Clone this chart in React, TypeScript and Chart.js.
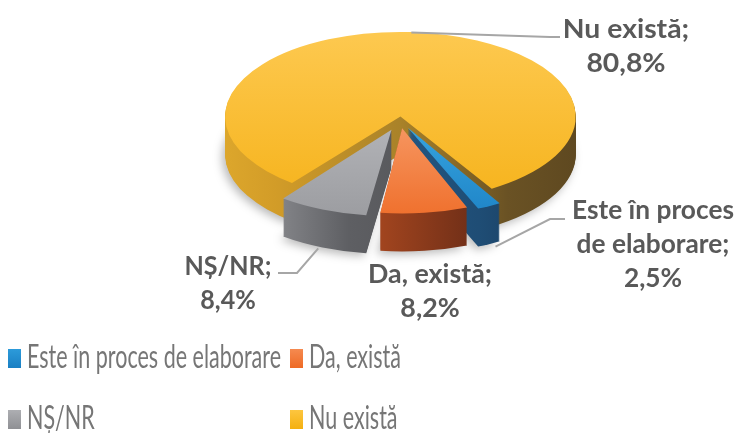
import React, { useEffect, useRef } from 'react';
import { Chart, registerables } from 'chart.js';

Chart.register(...registerables);

// ---- data ----
const CATEGORIES = ['Este în proces de elaborare', 'Da, există', 'NȘ/NR', 'Nu există'];
const VALUES = [2.5, 8.2, 8.4, 80.8];
const LABEL_LINES = [['Este în proces', 'de elaborare;'], ['Da, există;'], ['NȘ/NR;'], ['Nu există;']];

// ---- style ----
const PIE = { cx: 400, cy: 120, rx: 168, ry: 81, depth: 38 };
const OFFSETS = [70, 70, 90, 30];
const ROTATION = 149;

const TOP_COLORS = [
  ['#36A3DE', '#1B80C4'],
  ['#F6955F', '#EE6A25'],
  ['#B1B2B6', '#98999D'],
  ['#FECB55', '#F5B117'],
];
const LEGEND_COLORS = [
  ['#2C9BDA', '#1A7FC3'],
  ['#F58A50', '#EE6A25'],
  ['#ADAEB2', '#8F9094'],
  ['#FDC640', '#F4B010'],
];
const SIDE_STOPS: [number, string][][] = [
  [[0, '#2A6A9C'], [0.7, '#1F4D75'], [1, '#143150']],
  [[0, '#C25A2C'], [0.42, '#A5461F'], [0.72, '#6C2D17'], [1, '#5A2412']],
  [[0, '#A3A4A8'], [0.13, '#8E8F93'], [0.38, '#5E5F63'], [1, '#454547']],
  [[0, '#DDA72C'], [0.15, '#D29C28'], [0.5, '#A98229'], [0.8, '#6A5224'], [1, '#5E4820']],
];
// x, first baseline, width of first line, leader elbow points
const LABEL_STYLE: any[] = [
  { x: 653, y: 219, w: 162, lead: [[550, 219], [565, 219]], anchor: 'front' },
  { x: 430, y: 283, w: 124, lead: null, anchor: null },
  { x: 228, y: 275, w: 87, lead: [[297, 273], [278, 273]], anchor: 'front' },
  { x: 626, y: 38, w: 138, lead: [[550, 37], [560, 37]], anchor: 'top' },
];
const LABEL_FONT = 'bold 27px Lato';
const LABEL_LINE_H = 34;
const LEGEND_FONT = '32px Lato';
const LEGEND_FIT = { text: 'Este în proces de elaborare', width: 254 };
const LEGEND_COLS = [8, 290];
const LEGEND_BASE = [368, 429];

function geom(chart: any) {
  const els = chart.getDatasetMeta(0).data as any[];
  const e0 = els[0];
  const R = e0.outerRadius;
  return { els, ox: e0.x, oy: e0.y, R, sx: PIE.rx / R, sy: PIE.ry / R };
}

function applyProj(ctx: CanvasRenderingContext2D, g: any) {
  ctx.translate(PIE.cx, PIE.cy);
  ctx.scale(g.sx, g.sy);
  ctx.translate(-g.ox, -g.oy);
}

function edgePoint(g: any, i: number) {
  const el = g.els[i];
  const off = el.options.offset || 0;
  const circ = el.endAngle - el.startAngle;
  const h = (el.startAngle + el.endAngle) / 2;
  const fix = 1 - Math.sin(Math.min(Math.PI, circ));
  const t = (off / 4) * (1 + fix);
  const rr = el.outerRadius + (off / 4) * fix;
  const ux = el.x + Math.cos(h) * (t + rr);
  const uy = el.y + Math.sin(h) * (t + rr);
  return [PIE.cx + (ux - g.ox) * g.sx, PIE.cy + (uy - g.oy) * g.sy];
}

const pie3d = {
  id: 'pie3d',
  beforeDatasetsDraw(chart: any) {
    const ctx = chart.ctx as CanvasRenderingContext2D;
    const g = geom(chart);
    const order = [3, 2, 0, 1];
    for (const i of order) {
      const el = g.els[i];
      const saved = el.options;
      const x0 = g.ox - g.R * (1 + 10 / PIE.rx);
      const x1 = g.ox + g.R * (1 + 10 / PIE.rx);
      const grad = ctx.createLinearGradient(x0, 0, x1, 0);
      SIDE_STOPS[i].forEach(([p, c]) => grad.addColorStop(p, c));
      el.options = { ...saved, backgroundColor: grad, borderWidth: 0 };
      for (let k = PIE.depth; k >= 1; k--) {
        ctx.save();
        if (k === PIE.depth) {
          ctx.shadowColor = 'rgba(0,0,0,0.28)';
          ctx.shadowBlur = 10;
          ctx.shadowOffsetX = -3;
          ctx.shadowOffsetY = 3;
        }
        ctx.translate(0, k);
        applyProj(ctx, g);
        el.draw(ctx);
        ctx.restore();
      }
      el.options = saved;
    }
    ctx.save();
    applyProj(ctx, g);
  },
  afterDatasetsDraw(chart: any) {
    chart.ctx.restore();
  },
  afterDraw(chart: any) {
    const ctx = chart.ctx as CanvasRenderingContext2D;
    const g = geom(chart);
    // leader lines
    ctx.save();
    ctx.strokeStyle = '#A6A6A6';
    ctx.lineWidth = 2;
    LABEL_STYLE.forEach((s, i) => {
      if (!s.lead) return;
      const p = edgePoint(g, i);
      const y0 = s.anchor === 'front' ? p[1] + PIE.depth * 0.9 : p[1] + 4;
      ctx.beginPath();
      ctx.moveTo(p[0], y0);
      s.lead.forEach((q: number[]) => ctx.lineTo(q[0], q[1]));
      ctx.stroke();
    });
    ctx.restore();
    // data labels
    ctx.save();
    ctx.font = LABEL_FONT;
    ctx.fillStyle = '#595959';
    ctx.textAlign = 'center';
    ctx.textBaseline = 'alphabetic';
    VALUES.forEach((v, i) => {
      const lines = [...LABEL_LINES[i], v.toFixed(1).replace('.', ',') + '%'];
      const s = LABEL_STYLE[i];
      const kl = Math.min(1.05, s.w / ctx.measureText(lines[0]).width);
      lines.forEach((t, j) => {
        ctx.save();
        ctx.translate(s.x, s.y + j * LABEL_LINE_H);
        ctx.scale(kl, 1);
        ctx.fillText(t, 0, 0);
        ctx.restore();
      });
    });
    ctx.restore();
    // legend
    ctx.save();
    ctx.font = LEGEND_FONT;
    const kg = LEGEND_FIT.width / ctx.measureText(LEGEND_FIT.text).width;
    ctx.textAlign = 'left';
    CATEGORIES.forEach((c, i) => {
      const x = LEGEND_COLS[i % 2];
      const b = LEGEND_BASE[Math.floor(i / 2)];
      const gr = ctx.createLinearGradient(0, b - 19, 0, b);
      gr.addColorStop(0, LEGEND_COLORS[i][0]);
      gr.addColorStop(1, LEGEND_COLORS[i][1]);
      ctx.fillStyle = gr;
      ctx.fillRect(x, b - 19, 13, 19);
      ctx.fillStyle = '#767676';
      ctx.save();
      ctx.translate(x + 19, b);
      ctx.scale(kg, 1);
      ctx.fillText(c, 0, 0);
      ctx.restore();
    });
    ctx.restore();
  },
};

export default function App() {
  const ref = useRef<HTMLCanvasElement | null>(null);
  useEffect(() => {
    document.body.style.margin = '0';
    const canvas = ref.current;
    if (!canvas) return;
    const chart = new Chart(canvas, {
      type: 'pie',
      data: {
        labels: CATEGORIES,
        datasets: [
          {
            data: VALUES,
            offset: OFFSETS,
            borderWidth: 0,
            clip: false as any,
            backgroundColor: (c: any) => {
              const ch = c.chart;
              const i = c.dataIndex ?? 0;
              const ca = ch.chartArea;
              if (!ca) return TOP_COLORS[i][0];
              const midY = (ca.top + ca.bottom) / 2;
              const half = (ca.bottom - ca.top) / 2;
              const gr = i === 3
                ? ch.ctx.createLinearGradient(0, midY - half, 0, midY + half)
                : ch.ctx.createLinearGradient(0, midY, 0, midY + half);
              gr.addColorStop(0, TOP_COLORS[i][0]);
              gr.addColorStop(1, TOP_COLORS[i][1]);
              return gr;
            },
          } as any,
        ],
      },
      options: {
        animation: false,
        responsive: true,
        maintainAspectRatio: false,
        rotation: ROTATION,
        events: [],
        layout: { padding: 0 },
        plugins: { legend: { display: false }, tooltip: { enabled: false } },
      },
      plugins: [pie3d],
    });
    return () => chart.destroy();
  }, []);
  return (
    <div style={{ width: 740, height: 433, position: 'relative' }}>
      <canvas ref={ref} />
    </div>
  );
}
